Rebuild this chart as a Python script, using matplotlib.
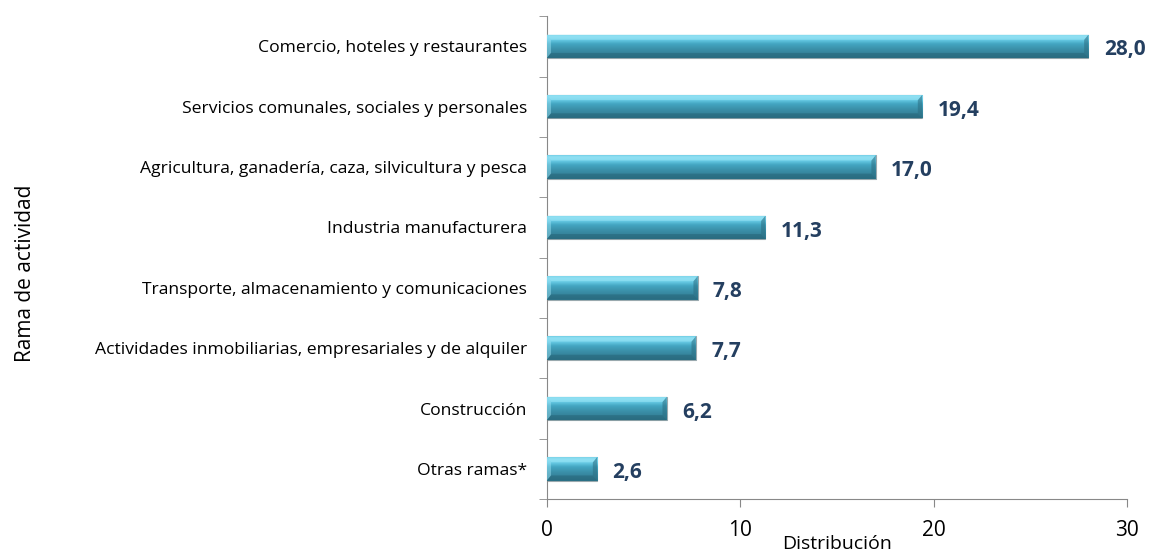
import matplotlib
matplotlib.use("Agg")
import matplotlib.pyplot as plt
import numpy as np
from matplotlib.colors import LinearSegmentedColormap
from matplotlib.patches import Polygon

categories = [
    "Comercio, hoteles y restaurantes",
    "Servicios comunales, sociales y personales",
    "Agricultura, ganadería, caza, silvicultura y pesca",
    "Industria manufacturera",
    "Transporte, almacenamiento y comunicaciones",
    "Actividades inmobiliarias, empresariales y de alquiler",
    "Construcción",
    "Otras ramas*",
]
values = [28.0, 19.4, 17.0, 11.3, 7.8, 7.7, 6.2, 2.6]
value_labels = ["28,0", "19,4", "17,0", "11,3", "7,8", "7,7", "6,2", "2,6"]
xticks = [0, 10, 20, 30]

plt.rcParams['font.family'] = ['Open Sans', 'DejaVu Sans']

fig = plt.figure(figsize=(11.56, 5.57), dpi=100)
ax = fig.add_axes([0.473, 0.104, 0.502, 0.867])

n = len(categories)
ypos = np.arange(n)[::-1]
bars = ax.barh(ypos, values, height=0.39, color='#3C9FBD', edgecolor='#9aa9ae',
               linewidth=0.8, zorder=2)

cmap = LinearSegmentedColormap.from_list(
    'g', [(0.0, '#2F778D'), (0.35, '#3A8EA7'), (0.6, '#44A6C2'),
          (0.75, '#64C8E3'), (0.9, '#7ED8EF'), (1.0, '#5FC3DE')])
grad = np.linspace(0, 1, 128).reshape(-1, 1)
bev = 0.22  # bevel width in data units
for b in bars:
    x0, y0 = b.get_x(), b.get_y()
    w, h = b.get_width(), b.get_height()
    im = ax.imshow(grad, cmap=cmap, aspect='auto', origin='lower',
                   extent=[x0, x0 + w, y0, y0 + h], zorder=3, interpolation='bicubic')
    im.set_clip_path(b)
    bh = h * 0.22
    ax.add_patch(Polygon([[x0 + w, y0], [x0 + w, y0 + h], [x0 + w - bev, y0 + h - bh],
                          [x0 + w - bev, y0 + bh]], closed=True, facecolor='#2C6E82',
                         alpha=0.55, edgecolor='none', zorder=4))
    ax.add_patch(Polygon([[x0, y0], [x0, y0 + h], [x0 + bev, y0 + h - bh],
                          [x0 + bev, y0 + bh]], closed=True, facecolor='#9FE6F7',
                         alpha=0.45, edgecolor='none', zorder=4))
    ax.add_patch(Polygon([[x0, y0 + h], [x0 + w, y0 + h], [x0 + w - bev, y0 + h - bh],
                          [x0 + bev, y0 + h - bh]], closed=True, facecolor='#A8ECFA',
                         alpha=0.45, edgecolor='none', zorder=4))
    ax.add_patch(Polygon([[x0, y0], [x0 + w, y0], [x0 + w - bev, y0 + bh],
                          [x0 + bev, y0 + bh]], closed=True, facecolor='#245E70',
                         alpha=0.45, edgecolor='none', zorder=4))

for y, v, lab in zip(ypos, values, value_labels):
    ax.annotate(lab, (v, y - 0.06), xytext=(11, 0), textcoords='offset points',
                va='center', ha='left', fontsize=15, fontweight='bold', color='#243F60')

ax.set_xlim(0, 30)
ax.set_ylim(-0.5, n - 0.5)
ax.set_xticks(xticks)
ax.set_xticklabels([str(t) for t in xticks], fontsize=15)
ax.set_yticks(ypos)
ax.set_yticklabels(categories, fontsize=12.6)
ax.set_yticks(np.arange(-0.5, n, 1.0), minor=True)
ax.tick_params(axis='y', which='major', length=0, pad=14)
ax.tick_params(axis='y', which='minor', length=6, color='#888888', direction='out')
ax.tick_params(axis='x', length=6, color='#888888', direction='out', pad=9)

for s in ['top', 'right']:
    ax.spines[s].set_visible(False)
for s in ['left', 'bottom']:
    ax.spines[s].set_color('#888888')

ax.set_xlabel('Distribución', fontsize=14, labelpad=-4)
fig.text(0.022, 0.51, 'Rama de actividad', rotation=90, fontsize=15, va='center', ha='center')

fig.savefig('out.png', dpi=100)
